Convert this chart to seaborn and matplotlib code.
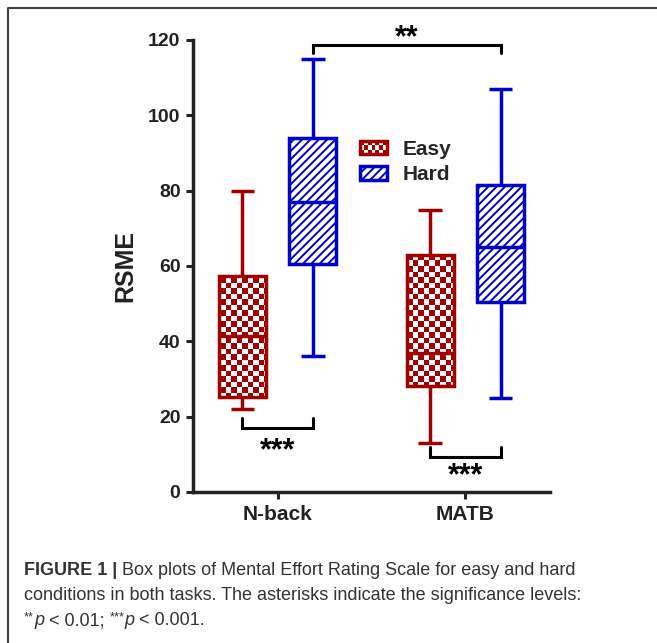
'''
Box plots of Mental Effort Rating Scale (RSME) for easy and hard conditions
'''
import numpy as np
import pandas as pd
import matplotlib
matplotlib.use('Agg')
import matplotlib.pyplot as plt
from matplotlib.colors import ListedColormap
from matplotlib.lines import Line2D
from matplotlib.patches import Rectangle
from matplotlib.legend_handler import HandlerBase
import seaborn as sns

tasks = ["N-back", "MATB"]
conditions = ["Easy", "Hard"]
# five-number summaries: min, q1, median, q3, max
nback_easy = [22, 25.3, 41.4, 57.4, 80]
nback_hard = [36, 60.5, 77.1, 93.9, 115]
matb_easy = [13, 28.2, 37, 62.9, 75]
matb_hard = [25, 50.5, 65.1, 81.5, 107]
yticks = [0, 20, 40, 60, 80, 100, 120]

# significance brackets: task a, cond a, task b, cond b, bar y, tip y, label baseline y, label
brackets = [("N-back", "Hard", "MATB", "Hard", 118.8, 116.6, 118.4, "**"),
            ("N-back", "Easy", "N-back", "Hard", 16.9, 19.6, 8.8, "***"),
            ("MATB", "Easy", "MATB", "Hard", 9.4, 12.0, 2.1, "***")]

edge = {"Easy": "#a00000", "Hard": "#0000c8"}
ink = "#222222"

rows = []
for task, easy, hard in zip(tasks, [nback_easy, matb_easy], [nback_hard, matb_hard]):
    for cond, vals in zip(conditions, [easy, hard]):
        for v in vals:
            rows.append((task, cond, v))
df = pd.DataFrame(rows, columns=["task", "cond", "rsme"])

sns.set_theme(style="ticks")
plt.rcParams['font.family'] = ['Liberation Sans', 'DejaVu Sans']
plt.rcParams['hatch.linewidth'] = 1.4

fig = plt.figure(figsize=(6.57, 6.43), dpi=100)
ax = fig.add_axes([193/657, 1 - 492/643, 357/657, 452/643])

width, gap = 0.75, 0.33
sns.boxplot(data=df, x="task", y="rsme", hue="cond", order=tasks,
            hue_order=conditions, palette=edge, width=width, gap=gap,
            whis=(0, 100), linewidth=2.5, legend=False, ax=ax)

xlim = (-0.45, 1.45)
ylim = (0, 120)

# recolour the boxes: outline per condition, checks for easy, hatch for hard
ny, nx = int(round(452/5.5)), int(round(357/5.5))
checker = np.indices((ny, nx)).sum(axis=0) % 2
check_cmap = ListedColormap(["white", edge["Easy"]])
for cont, cond in zip(ax.containers, conditions):
    c = edge[cond]
    for line in [*cont.whiskers, *cont.caps, *cont.medians]:
        line.set_color(c)
        line.set_solid_capstyle("butt")
    for box in cont.boxes:
        box.set_facecolor("none")
        box.set_edgecolor(c)
        if cond == "Hard":
            box.set_facecolor("white")
            box.set_hatch("////")
        else:
            im = ax.imshow(checker, cmap=check_cmap, origin="lower",
                           extent=(*xlim, *ylim), aspect="auto",
                           interpolation="nearest", zorder=box.get_zorder() - 0.1)
            im.set_clip_path(box)

ax.set_xlim(*xlim)
ax.set_ylim(*ylim)
ax.set_yticks(yticks)
ax.set_xlabel("")
ax.set_ylabel("RSME", fontsize=18, fontweight="bold", color=ink, labelpad=8)
sns.despine(ax=ax)
for side in ["left", "bottom"]:
    ax.spines[side].set_linewidth(2.5)
    ax.spines[side].set_color(ink)
ax.tick_params(axis="both", width=2.2, length=5, color=ink, labelcolor=ink, pad=4)
ax.tick_params(axis="y", labelsize=14)
ax.tick_params(axis="x", labelsize=15)
for lab in ax.get_xticklabels() + ax.get_yticklabels():
    lab.set_fontweight("bold")

# significance brackets
offset = width / 4
pos = {(t, c): i + (-offset if c == "Easy" else offset)
       for i, t in enumerate(tasks) for c in conditions}
for ta, ca, tb, cb, bar, tip, ly, lab in brackets:
    xa, xb = pos[(ta, ca)], pos[(tb, cb)]
    ax.plot([xa, xa, xb, xb], [tip, bar, bar, tip], color="black", lw=2.2,
            solid_joinstyle="miter", clip_on=False)
    ax.text((xa + xb) / 2, ly, lab, ha="center", va="baseline", fontsize=22,
            fontweight="bold", color="black", clip_on=False)


class CheckerHandler(HandlerBase):
    def create_artists(self, legend, orig_handle, xdescent, ydescent,
                       width, height, fontsize, trans):
        c = orig_handle.get_edgecolor()
        x0, y0 = -xdescent, -ydescent
        arts = [Rectangle((x0, y0), width, height, facecolor="white",
                          edgecolor="none", transform=trans)]
        ncol, nrow = 7, 3
        w, h = width / ncol, height / nrow
        for i in range(ncol):
            for j in range(nrow):
                if (i + j) % 2 == 0:
                    arts.append(Rectangle((x0 + i*w, y0 + j*h), w, h, facecolor=c,
                                          edgecolor="none", transform=trans))
        arts.append(Rectangle((x0, y0), width, height, facecolor="none",
                              edgecolor=c, lw=2.5, transform=trans))
        return arts


easy_handle = Rectangle((0, 0), 1, 1, facecolor="white", edgecolor=edge["Easy"], lw=2.5)
hard_handle = Rectangle((0, 0), 1, 1, facecolor="white", edgecolor=edge["Hard"],
                        hatch="////", lw=2.5)
leg = ax.legend([easy_handle, hard_handle], conditions,
                handler_map={easy_handle: CheckerHandler()},
                loc="upper left", bbox_to_anchor=(360/657, 1 - 140/643),
                bbox_transform=fig.transFigure, frameon=False, borderpad=0,
                borderaxespad=0, handlelength=1.3, handleheight=0.63,
                handletextpad=0.75, labelspacing=0.3,
                prop={"weight": "bold", "size": 15})

# frame round the figure panel
fig.add_artist(Line2D([8/657, 8/657, 1], [0, 1 - 8/643, 1 - 8/643],
                      transform=fig.transFigure, color="#444444", lw=1.5))

# caption, written piece by piece so bold, italic and raised parts sit in line
renderer = fig.canvas.get_renderer()
cap_size = 13


def caption_line(y_px, pieces):
    x = 24
    for text, kw in pieces:
        style = dict(fontsize=cap_size, color="#333333", va="baseline")
        dy = 0
        if kw.get("sup"):
            style["fontsize"] = cap_size * 0.7
            dy = 5
        if kw.get("bold"):
            style["fontweight"] = "bold"
        if kw.get("italic"):
            style["fontstyle"] = "italic"
        t = fig.text(x / 657, 1 - (y_px - dy) / 643, text, **style)
        bb = t.get_window_extent(renderer)
        x += bb.width + kw.get("space", 0)


caption_line(575, [("FIGURE 1 |", {"bold": True, "space": 5}),
                   ("Box plots of Mental Effort Rating Scale for easy and hard", {})])
caption_line(600, [("conditions in both tasks. The asterisks indicate the significance levels:", {})])
caption_line(625, [("**", {"sup": True}), ("p", {"italic": True}),
                   (" < 0.01; ", {}), ("***", {"sup": True}),
                   ("p", {"italic": True}), (" < 0.001.", {})])

fig.savefig("out.png", dpi=100)
